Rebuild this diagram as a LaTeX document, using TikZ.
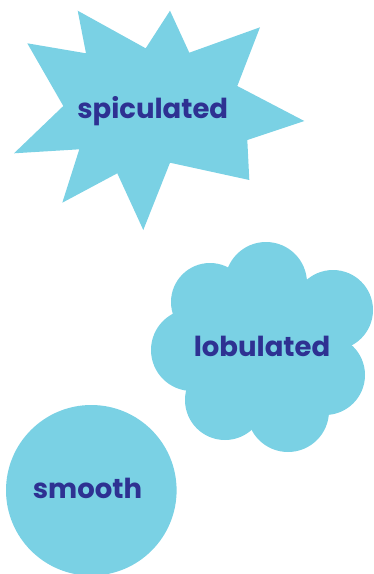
\documentclass[tikz,border=0pt]{standalone}
\usepackage{fontspec}
\setmainfont{Poppins}
\definecolor{blobfill}{RGB}{122,209,228}
\definecolor{labeltext}{RGB}{46,49,146}
\tikzset{
  blob/.style={fill=blobfill, draw=none},
  lbl/.style={text=labeltext, font=\fontsize{27.5}{33}\selectfont\bfseries, inner sep=0pt, anchor=base}
}
\begin{document}
\begin{tikzpicture}[x=1pt,y=-1pt]
\useasboundingbox (0,0) rectangle (373,574);
% spiculated star
\fill[blobfill] (77.7,10.7) -- (145.7,48.3) -- (170,10.7) -- (189.3,52.7) -- (260,27.3) -- (237.3,86) -- (304.3,121) -- (247.3,140) -- (249.3,180) -- (170,162.7) -- (143.3,230) -- (117.3,173.3) -- (62.3,202.7) -- (79.3,149.3) -- (14,153.3) -- (63.3,106) -- (27.3,43.3) -- (86,53.3) -- cycle;
\node[lbl] (spic) at (152.7,118.5) {spiculated};
% lobulated cloud
\fill[blobfill] (266,283) circle[radius=41];
\fill[blobfill] (333,310) circle[radius=40];
\fill[blobfill] (325,375) circle[radius=40];
\fill[blobfill] (288,411) circle[radius=41];
\fill[blobfill] (225,400) circle[radius=40];
\fill[blobfill] (192,350) circle[radius=41];
\fill[blobfill] (210,302) circle[radius=39];
\fill[blobfill] (262,350) circle[radius=60];
\node[lbl] (lob) at (262,356.5) {lobulated};
% smooth circle
\fill[blobfill] (91.3,490.3) circle[radius=85.3];
\node[lbl] (smo) at (87.5,498) {smooth};
\end{tikzpicture}
\end{document}
